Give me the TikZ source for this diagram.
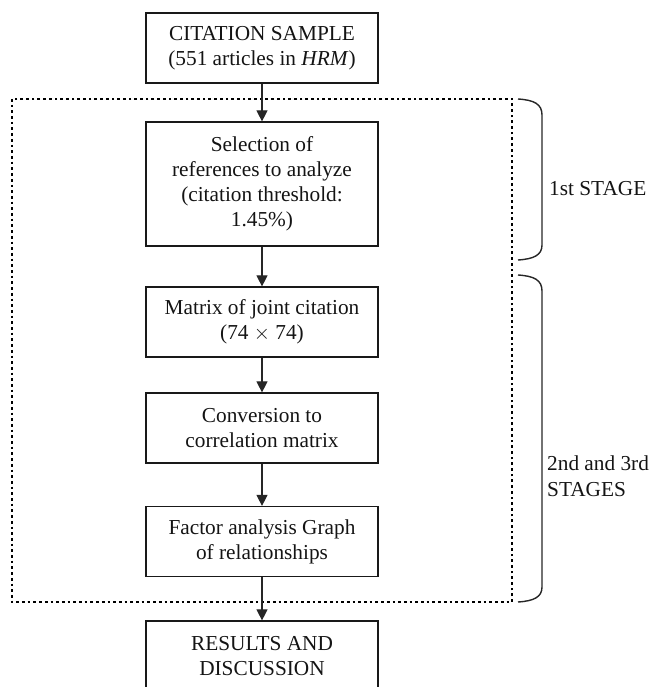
\documentclass[tikz,border=0pt]{standalone}
\usepackage{fontspec}
\setmainfont{Liberation Serif}
\usetikzlibrary{arrows.meta}
\begin{document}
\begin{tikzpicture}[x=1pt,y=-1pt,
  box/.style={draw=black!90, line width=1.2pt, minimum width=232pt, minimum height=70pt,
    inner sep=0pt, align=center, text=black!92, font=\fontsize{21.3}{25}\selectfont},
  flow/.style={draw=black!85, line width=1.1pt, -{Triangle[length=11pt,width=11pt]}},
  dotframe/.style={draw=black, line width=2.7pt, dash pattern=on 2.7pt off 3.0pt},
  bracket/.style={draw=black!85, line width=1.4pt},
  stagelbl/.style={anchor=west, align=left, inner sep=0pt, text=black!92, font=\fontsize{21.3}{26}\selectfont}]
\useasboundingbox (0,0) rectangle (662,687);
\clip (0,0) rectangle (662,687);
% dotted frame
\draw[dotframe] (12,99) rectangle (512,602);
% boxes
\node[box] (top) at (262,48) {CITATION SAMPLE\\(551 articles in \textit{HRM})};
\node[box, minimum height=124pt] (sel) at (262,184) {Selection of\\references to analyze\\(citation threshold:\\1.45\%)};
\node[box] (mat) at (262,322) {Matrix of joint citation\\(74 $\times$ 74)};
\node[box] (conv) at (262,428) {Conversion to\\correlation matrix};
\node[box] (fac) at (262,541.5) {Factor analysis Graph\\of relationships};
\node[box] (res) at (262,656) {RESULTS AND\\DISCUSSION};
% connectors
\draw[flow] (top) -- (sel);
\draw[flow] (sel) -- (mat);
\draw[flow] (mat) -- (conv);
\draw[flow] (conv) -- (fac);
\draw[flow] (fac) -- (res);
% braces
\draw[bracket] (518,99) .. controls (534,100) and (542,104) .. (542,115) -- (542,245)
  .. controls (542,255) and (534,259) .. (518,260);
\draw[bracket] (518,275) .. controls (534,276) and (542,280) .. (542,291) -- (542,587)
  .. controls (542,597) and (534,601) .. (518,602);
% stage labels
\node[stagelbl] (s1) at (549,188.5) {1st STAGE};
\node[stagelbl] (s2) at (547,476) {2nd and 3rd\\STAGES};
\end{tikzpicture}
\end{document}
